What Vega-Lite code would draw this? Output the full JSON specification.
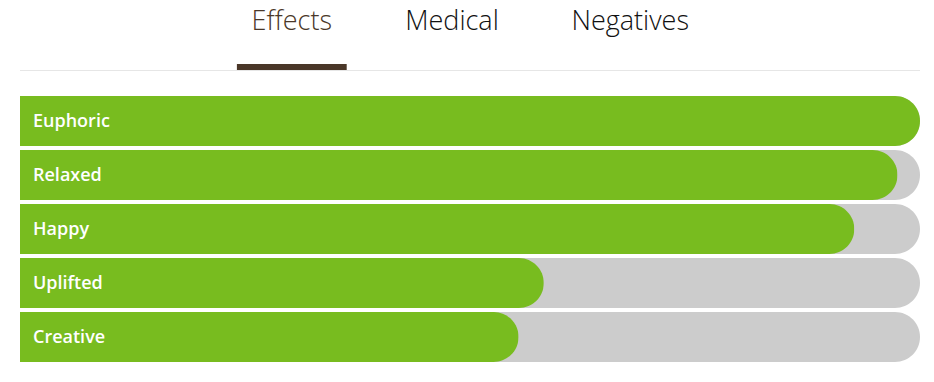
{
  "$schema": "https://vega.github.io/schema/vega-lite/v6.json",
  "width": 934,
  "height": 382,
  "padding": 0,
  "autosize": {"type": "none"},
  "background": "#ffffff",
  "config": {"view": {"stroke": null}},
  "datasets": {
    "effects": [
      {"effect": "Euphoric", "score": 100},
      {"effect": "Relaxed", "score": 97.5},
      {"effect": "Happy", "score": 92.7},
      {"effect": "Uplifted", "score": 58.2},
      {"effect": "Creative", "score": 55.4}
    ]
  },
  "layer": [
    {
      "data": {"name": "effects"},
      "encoding": {
        "y": {"field": "effect", "type": "nominal", "sort": null, "axis": null,
              "scale": {"range": [96, 362], "paddingInner": 0.074, "paddingOuter": 0}}
      },
      "layer": [
        {
          "mark": {"type": "bar", "color": "#cccccc", "cornerRadiusEnd": 25, "orient": "horizontal"},
          "encoding": {
            "x": {"datum": 100, "type": "quantitative", "axis": null, "scale": {"domain": [0, 100], "range": [20, 920]}}
          }
        },
        {
          "mark": {"type": "bar", "color": "#78bc1f", "cornerRadiusEnd": 25, "orient": "horizontal"},
          "encoding": {
            "x": {"field": "score", "type": "quantitative"}
          }
        },
        {
          "mark": {"type": "text", "color": "#ffffff", "align": "left", "baseline": "middle", "dx": 13, "dy": 1, "font": "Open Sans", "fontSize": 18, "fontWeight": 600},
          "encoding": {
            "x": {"datum": 0, "type": "quantitative"},
            "text": {"field": "effect"}
          }
        }
      ]
    },
    {
      "data": {"values": [{"end": 0}, {"end": 100}]},
      "mark": {"type": "line", "color": "#e6e6e6", "strokeWidth": 1},
      "encoding": {
        "x": {"field": "end", "type": "quantitative"},
        "y": {"datum": 70.5, "type": "quantitative", "axis": null, "scale": {"domain": [0, 382], "range": [0, 382]}}
      }
    },
    {
      "data": {"values": [{"tab": "Effects"}]},
      "mark": {"type": "rect", "color": "#4a3728"},
      "encoding": {
        "x": {"datum": 24.1, "type": "quantitative"},
        "x2": {"datum": 36.3},
        "y": {"datum": 64, "type": "quantitative", "axis": null, "scale": {"domain": [0, 382], "range": [0, 382]}},
        "y2": {"datum": 70}
      }
    },
    {
      "data": {"values": [{"tab": "Effects"}]},
      "mark": {"type": "text", "baseline": "alphabetic", "align": "center", "font": "Open Sans", "fontSize": 27, "fontWeight": 300, "color": "#4a3728"},
      "encoding": {
        "x": {"datum": 30.2, "type": "quantitative"},
        "y": {"datum": 30, "type": "quantitative", "axis": null, "scale": {"domain": [0, 382], "range": [0, 382]}},
        "text": {"field": "tab"}
      }
    },
    {
      "data": {"values": [{"tab": "Medical"}]},
      "mark": {"type": "text", "baseline": "alphabetic", "align": "center", "font": "Open Sans", "fontSize": 27, "fontWeight": 300, "color": "#111111"},
      "encoding": {
        "x": {"datum": 48.0, "type": "quantitative"},
        "y": {"datum": 30, "type": "quantitative", "axis": null, "scale": {"domain": [0, 382], "range": [0, 382]}},
        "text": {"field": "tab"}
      }
    },
    {
      "data": {"values": [{"tab": "Negatives"}]},
      "mark": {"type": "text", "baseline": "alphabetic", "align": "center", "font": "Open Sans", "fontSize": 27, "fontWeight": 300, "color": "#111111"},
      "encoding": {
        "x": {"datum": 67.8, "type": "quantitative"},
        "y": {"datum": 30, "type": "quantitative", "axis": null, "scale": {"domain": [0, 382], "range": [0, 382]}},
        "text": {"field": "tab"}
      }
    }
  ],
  "resolve": {"scale": {"y": "independent"}}
}
